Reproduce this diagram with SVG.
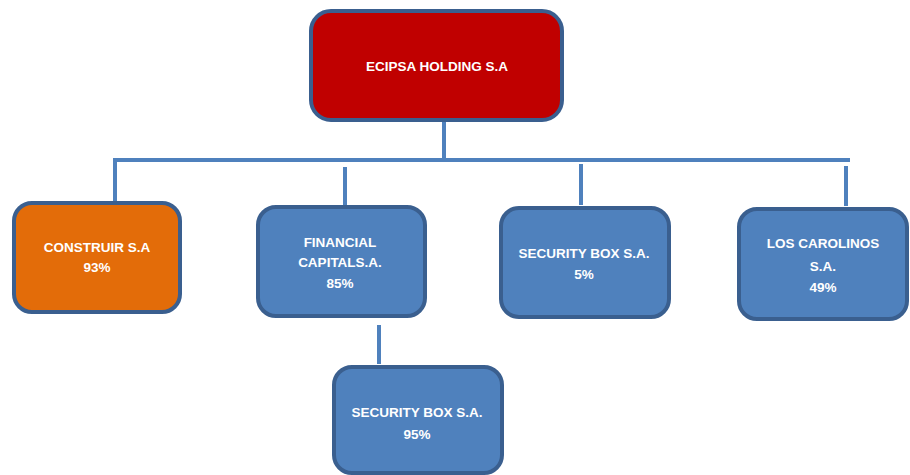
<svg xmlns="http://www.w3.org/2000/svg" width="910" height="475" viewBox="0 0 910 475">
<style>
.box{stroke:#3a5f8f;stroke-width:4}
.blue{fill:#4f81bd}
.red{fill:#c00000}
.orange{fill:#e36c09}
.t{font-family:"Liberation Sans",Arial,sans-serif;font-weight:bold;font-size:13.5px;fill:#ffffff;text-anchor:middle}
.c{stroke:#4f81bd;stroke-width:4;fill:none}
</style>
<rect width="910" height="475" fill="#ffffff"/>
<g id="connectors">
<line class="c" x1="444" y1="121" x2="444" y2="160"/>
<line class="c" x1="113" y1="160" x2="850" y2="160"/>
<line class="c" x1="115" y1="160" x2="115" y2="203"/>
<line class="c" x1="345" y1="167" x2="345" y2="205"/>
<line class="c" x1="581" y1="164" x2="581" y2="205"/>
<line class="c" x1="846" y1="166" x2="846" y2="206"/>
<line class="c" x1="379" y1="325" x2="379" y2="364"/>
</g>
<g id="ecipsa">
<rect class="box red" x="311" y="11" width="251" height="109" rx="20"/>
<text class="t" x="437" y="71">ECIPSA HOLDING S.A</text>
</g>
<g id="construir">
<rect class="box orange" x="14" y="203" width="166" height="109" rx="18"/>
<text class="t" x="97" y="252">CONSTRUIR S.A</text>
<text class="t" x="97" y="272">93%</text>
</g>
<g id="financial">
<rect class="box blue" x="258" y="207" width="167" height="109" rx="18"/>
<text class="t" x="340" y="247">FINANCIAL</text>
<text class="t" x="340" y="267">CAPITALS.A.</text>
<text class="t" x="340" y="288">85%</text>
</g>
<g id="securitybox5">
<rect class="box blue" x="501" y="208" width="168" height="109" rx="18"/>
<text class="t" x="584" y="258">SECURITY BOX S.A.</text>
<text class="t" x="584" y="279">5%</text>
</g>
<g id="loscarolinos">
<rect class="box blue" x="739" y="209" width="168" height="110" rx="18"/>
<text class="t" x="823" y="248">LOS CAROLINOS</text>
<text class="t" x="823" y="271">S.A.</text>
<text class="t" x="823" y="292">49%</text>
</g>
<g id="securitybox95">
<rect class="box blue" x="334" y="367" width="168" height="106" rx="18"/>
<text class="t" x="417" y="417">SECURITY BOX S.A.</text>
<text class="t" x="417" y="439">95%</text>
</g>
</svg>
